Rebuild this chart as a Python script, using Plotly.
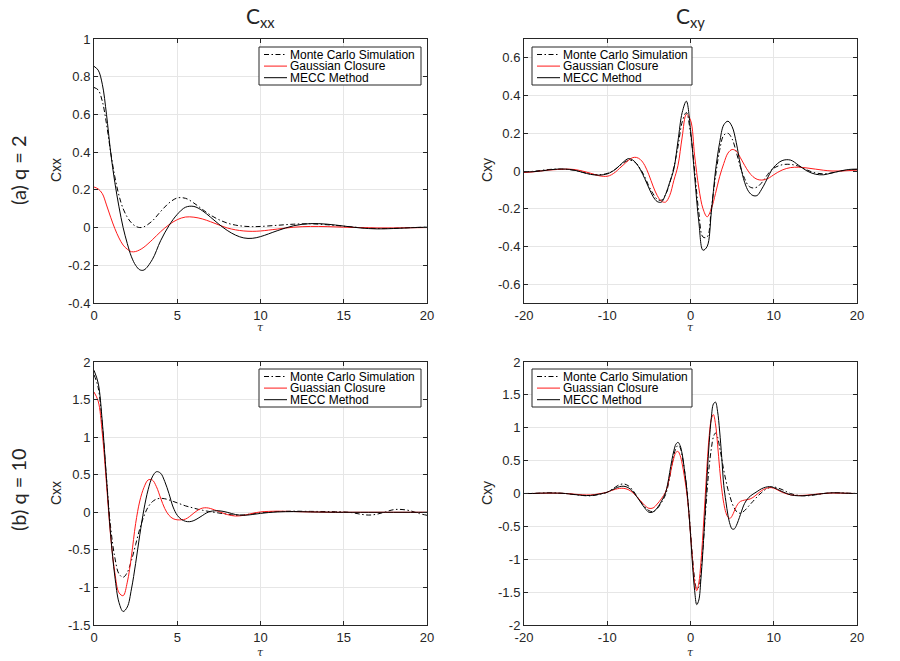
import plotly.graph_objects as go
from plotly.subplots import make_subplots

# (a) q = 2, Cxx
tau_a = [0, 0.25, 0.5, 0.75, 1, 1.25, 1.5, 1.75, 2, 2.25, 2.5, 2.75, 3,
         3.5, 4, 4.5, 5, 5.5, 6, 6.5, 7, 7.5, 8, 8.5, 9, 9.5, 10,
         11, 12, 13, 14, 15, 16, 17, 18, 19, 20]
mc_a = [0.743, 0.73, 0.67, 0.55, 0.40, 0.27, 0.17, 0.10, 0.055, 0.025, 0.007, 0.0, 0.004,
        0.035, 0.085, 0.13, 0.157, 0.155, 0.13, 0.097, 0.066, 0.042, 0.024, 0.013, 0.007, 0.005, 0.006,
        0.012, 0.018, 0.02, 0.015, 0.007, 0.0, -0.005, -0.004, 0.0, 0.002]
gc_a = [0.215, 0.205, 0.18, 0.12, 0.055, -0.005, -0.055, -0.093, -0.115, -0.128, -0.127, -0.118, -0.104,
        -0.065, -0.022, 0.015, 0.042, 0.056, 0.055, 0.046, 0.031, 0.014, -0.002, -0.012, -0.018, -0.02, -0.018,
        -0.008, 0.002, 0.006, 0.005, 0.002, 0.0, -0.002, -0.002, -0.001, 0.0]
mecc_a = [0.855, 0.835, 0.76, 0.6, 0.40, 0.24, 0.11, 0.0, -0.085, -0.155, -0.2, -0.224, -0.225,
          -0.17, -0.07, 0.01, 0.07, 0.108, 0.112, 0.09, 0.055, 0.018, -0.015, -0.04, -0.055, -0.057, -0.048,
          -0.017, 0.01, 0.021, 0.018, 0.008, -0.002, -0.007, -0.005, -0.001, 0.002]

# (a) q = 2, Cxy
tau_b = [-20, -19, -18, -17, -16, -15, -14, -13, -12, -11,
         -10, -9.5, -9, -8.5, -8, -7.5, -7, -6.5, -6, -5.5, -5, -4.5, -4, -3.5, -3, -2.5, -2, -1.5, -1, -0.5,
         0, 0.5, 1, 1.5, 2, 2.5, 3, 3.5, 4, 4.5, 5, 5.5, 6, 6.5, 7, 7.5, 8, 8.5, 9, 9.5, 10,
         11, 12, 13, 14, 15, 16, 17, 18, 19, 20]
mc_b = [-0.005, -0.002, 0.003, 0.008, 0.01, 0.009, 0.004, -0.006, -0.016, -0.02,
        -0.013, -0.003, 0.01, 0.028, 0.045, 0.055, 0.055, 0.04, 0.01, -0.03, -0.08, -0.12, -0.15, -0.155,
        -0.125, -0.065, 0.02, 0.13, 0.26, 0.31,
        0.2, 0.0, -0.22, -0.35, -0.35, -0.2, -0.03, 0.11, 0.19, 0.2, 0.17, 0.1, 0.02, -0.04, -0.08, -0.09,
        -0.085, -0.065, -0.035, -0.005, 0.015,
        0.033, 0.035, 0.025, 0.005, -0.01, -0.015, -0.01, 0.0, 0.005, 0.008]
gc_b = [-0.008, -0.005, 0.0, 0.005, 0.008, 0.01, 0.008, 0.0, -0.012, -0.025,
        -0.028, -0.02, -0.005, 0.015, 0.035, 0.055, 0.07, 0.072, 0.06, 0.03, -0.02, -0.08, -0.13, -0.16,
        -0.165, -0.13, -0.05, 0.03, 0.18, 0.3,
        0.27, 0.08, -0.09, -0.2, -0.243, -0.2, -0.12, -0.03, 0.04, 0.095, 0.114, 0.105, 0.07, 0.03, -0.005,
        -0.03, -0.044, -0.048, -0.045, -0.035, -0.02,
        0.005, 0.018, 0.02, 0.016, 0.01, 0.004, 0.0, 0.0, 0.002, 0.005]
mecc_b = [-0.005, -0.004, 0.0, 0.006, 0.01, 0.01, 0.005, -0.007, -0.018, -0.022,
          -0.015, -0.005, 0.01, 0.03, 0.05, 0.065, 0.06, 0.04, 0.005, -0.04, -0.09, -0.135, -0.162, -0.165,
          -0.125, -0.06, 0.01, 0.16, 0.31, 0.37,
          0.22, -0.03, -0.27, -0.42, -0.4, -0.22, 0.0, 0.15, 0.245, 0.264, 0.235, 0.15, 0.03, -0.06, -0.11,
          -0.13, -0.13, -0.1, -0.06, -0.015, 0.02,
          0.055, 0.058, 0.03, 0.0, -0.017, -0.02, -0.01, 0.0, 0.008, 0.01]

# (b) q = 10, Cxx
tau_c = [0, 0.25, 0.5, 0.75, 1, 1.25, 1.5, 1.75, 2, 2.25, 2.5, 2.75, 3, 3.25, 3.5, 3.75,
         4, 4.25, 4.5, 4.75, 5, 5.25, 5.5, 5.75, 6, 6.25, 6.5, 6.75, 7,
         7.5, 8, 8.5, 9, 9.5, 10, 10.5, 11, 11.5, 12, 12.5, 13, 13.5, 14,
         14.5, 15, 15.5, 16, 16.5, 17, 17.5, 18, 18.5, 19, 19.5, 20]
mc_c = [1.83, 1.66, 1.15, 0.45, -0.2, -0.6, -0.82, -0.865, -0.8, -0.64, -0.43, -0.22, -0.05, 0.07, 0.14, 0.175,
        0.186, 0.18, 0.165, 0.145, 0.125, 0.105, 0.085, 0.07, 0.055, 0.04, 0.028, 0.017, 0.008,
        -0.01, -0.025, -0.04, -0.035, -0.02, -0.005, 0.005, 0.01, 0.013, 0.015, 0.013, 0.012, 0.011, 0.01,
        0.008, 0.005, -0.005, -0.025, -0.037, -0.025, 0.005, 0.035, 0.037, 0.02, -0.015, -0.04]
gc_c = [1.6, 1.48, 1.05, 0.38, -0.32, -0.8, -1.07, -1.11, -0.93, -0.58, -0.15, 0.15, 0.33, 0.43, 0.43, 0.34,
        0.19, 0.05, -0.04, -0.085, -0.1, -0.1, -0.09, -0.055, -0.01, 0.03, 0.055, 0.06, 0.05,
        0.01, -0.03, -0.05, -0.04, -0.015, 0.005, 0.012, 0.015, 0.013, 0.01, 0.007, 0.005, 0.003, 0.001,
        0, 0, 0, 0, 0, 0, 0, 0, 0, 0, 0, 0]
mecc_c = [1.89, 1.72, 1.2, 0.45, -0.3, -0.85, -1.2, -1.32, -1.26, -1.02, -0.68, -0.3, 0.04, 0.3, 0.47, 0.54,
          0.52, 0.41, 0.25, 0.07, -0.04, -0.095, -0.12, -0.125, -0.11, -0.08, -0.045, -0.01, 0.012,
          0.02, 0.0, -0.03, -0.04, -0.03, -0.015, -0.003, 0.005, 0.009, 0.01, 0.008, 0.005, 0.003, 0.002,
          0, 0, 0, 0, 0, 0, 0, 0, 0, 0, 0, 0]

# (b) q = 10, Cxy
tau_d = [-20, -19, -18, -17, -16, -15, -14, -13, -12, -11,
         -10, -9.5, -9, -8.5, -8, -7.5, -7, -6.5, -6, -5.5, -5, -4.5, -4, -3.5,
         -3, -2.75, -2.5, -2.25, -2, -1.75, -1.5, -1.25, -1, -0.75, -0.5, -0.25,
         0, 0.25, 0.5, 0.75, 1, 1.25, 1.5, 1.75, 2, 2.25, 2.5, 2.75, 3, 3.25, 3.5, 3.75,
         4, 4.25, 4.5, 4.75, 5, 5.25, 5.5, 5.75, 6,
         6.5, 7, 7.5, 8, 8.5, 9, 9.5, 10,
         11, 12, 13, 14, 15, 16, 17, 18, 19, 20]
mc_d = [0.0, 0.002, 0.006, 0.01, 0.008, 0.0, -0.015, -0.03, -0.035, -0.015,
        0.02, 0.06, 0.1, 0.135, 0.145, 0.12, 0.06, -0.03, -0.12, -0.2, -0.26, -0.275, -0.23, -0.14,
        -0.02, 0.09, 0.24, 0.42, 0.58, 0.69, 0.73, 0.7, 0.57, 0.38, 0.13, -0.2,
        -0.58, -0.98, -1.3, -1.45, -1.42, -1.2, -0.82, -0.38, 0.05, 0.42, 0.68, 0.86, 0.92, 0.86, 0.7, 0.53,
        0.35, 0.2, 0.06, -0.05, -0.15, -0.22, -0.27, -0.295, -0.3,
        -0.26, -0.19, -0.12, -0.05, 0.01, 0.06, 0.09, 0.1,
        0.06, 0.0, -0.03, -0.035, -0.02, 0.0, 0.01, 0.01, 0.005, 0.0]
gc_d = [0.0, 0.0, 0.004, 0.006, 0.005, 0.0, -0.01, -0.02, -0.022, -0.005,
        0.02, 0.045, 0.065, 0.078, 0.078, 0.06, 0.02, -0.04, -0.11, -0.18, -0.225, -0.22, -0.16, -0.08,
        0.02, 0.12, 0.26, 0.41, 0.54, 0.625, 0.64, 0.58, 0.45, 0.27, 0.06, -0.22,
        -0.62, -1.02, -1.36, -1.478, -1.36, -1.05, -0.6, -0.08, 0.45, 0.88, 1.13, 1.2, 1.06, 0.75, 0.38, 0.07,
        -0.15, -0.29, -0.36, -0.378, -0.34, -0.27, -0.2, -0.15, -0.12,
        -0.1, -0.09, -0.06, -0.01, 0.04, 0.075, 0.09, 0.08,
        0.02, -0.02, -0.03, -0.025, -0.012, 0.0, 0.008, 0.006, 0.002, 0.0]
mecc_d = [0.0, 0.0, 0.005, 0.008, 0.006, 0.0, -0.015, -0.028, -0.03, -0.01,
          0.02, 0.05, 0.08, 0.105, 0.11, 0.09, 0.04, -0.04, -0.13, -0.22, -0.285, -0.28, -0.22, -0.12,
          0.01, 0.14, 0.32, 0.5, 0.65, 0.75, 0.778, 0.73, 0.6, 0.38, 0.13, -0.2,
          -0.62, -1.1, -1.48, -1.69, -1.62, -1.3, -0.85, -0.3, 0.28, 0.78, 1.15, 1.36, 1.39, 1.25, 0.95, 0.55,
          0.12, -0.12, -0.33, -0.47, -0.54, -0.54, -0.49, -0.41, -0.32,
          -0.15, -0.06, -0.01, 0.03, 0.07, 0.095, 0.105, 0.09,
          0.03, -0.02, -0.035, -0.03, -0.015, 0.0, 0.01, 0.008, 0.002, 0.0]

xticks_pos = [0, 5, 10, 15, 20]
xticks_sym = [-20, -10, 0, 10, 20]
yticks_a = [-0.4, -0.2, 0, 0.2, 0.4, 0.6, 0.8, 1]
yticks_b = [-0.6, -0.4, -0.2, 0, 0.2, 0.4, 0.6]
yticks_c = [-1.5, -1, -0.5, 0, 0.5, 1, 1.5, 2]
yticks_d = [-2, -1.5, -1, -0.5, 0, 0.5, 1, 1.5, 2]

names_top = ["Monte Carlo Simulation", "Gaussian Closure", "MECC Method"]
names_bot = ["Monte Carlo Simulation", "Guassian Closure", "MECC Method"]

W, H = 900, 661
PAD = 8  # the page's body margin pushes the figure by this much, so lay out in page pixels minus PAD
SANS = "Liberation Sans, Arial, sans-serif"
INK = "#262626"

styles = [dict(color="black", width=1, dash="5px,2.5px,1.5px,2.5px"),
          dict(color="#ff1a1a", width=1),
          dict(color="black", width=1)]


def px_x(v):
    return (v - PAD) / W


def px_y(v):
    return 1 - (v - PAD) / H


# row, col, data, legend names, legend box (left, top) in pixels
panels = [
    (1, 1, tau_a, [mc_a, gc_a, mecc_a], names_top, (259, 47)),
    (1, 2, tau_b, [mc_b, gc_b, mecc_b], names_top, (532, 47)),
    (2, 1, tau_c, [mc_c, gc_c, mecc_c], names_bot, (259, 369)),
    (2, 2, tau_d, [mc_d, gc_d, mecc_d], names_bot, (532, 369)),
]

fig = make_subplots(rows=2, cols=2)

for row, col, tau, series, names, (lx, ly) in panels:
    for ys, name, st in zip(series, names, styles):
        assert len(ys) == len(tau)
        fig.add_trace(go.Scatter(x=tau, y=ys, mode="lines", name=name, showlegend=False,
                                 line=dict(shape="spline", **st)), row=row, col=col)
    # compact MATLAB-style legend box
    lw = 162 if col == 1 else 160
    fig.add_shape(type="rect", xref="paper", yref="paper",
                  x0=px_x(lx), x1=px_x(lx + lw), y0=px_y(ly), y1=px_y(ly + 38),
                  line=dict(color=INK, width=1), fillcolor="white", layer="above")
    for i, (name, st) in enumerate(zip(names, styles)):
        yy = ly + 7.5 + 11.6 * i
        fig.add_shape(type="line", xref="paper", yref="paper",
                      x0=px_x(lx + 5), x1=px_x(lx + 28), y0=px_y(yy), y1=px_y(yy),
                      line=st, layer="above")
        fig.add_annotation(text=name, x=px_x(lx + 30), y=px_y(yy), xref="paper", yref="paper",
                           showarrow=False, xanchor="left", yanchor="middle", borderpad=0,
                           font=dict(family=SANS, size=12, color="black"))


def tick_text(vals):
    return [f"{v:g}" for v in vals]


axis_style = dict(showline=True, mirror="ticks", linecolor=INK, linewidth=1,
                  ticks="inside", ticklen=4, tickcolor=INK,
                  showgrid=True, gridcolor="#e6e6e6", zeroline=False,
                  tickfont=dict(family=SANS, size=13, color=INK))

xl = [px_x(94), px_x(427)]
xr = [px_x(524), px_x(857)]
yt = [px_y(303), px_y(39)]
yb = [px_y(625), px_y(362)]

fig.update_xaxes(**axis_style)
fig.update_yaxes(**axis_style)
fig.update_layout(
    xaxis=dict(domain=xl, range=[0, 20], tickvals=xticks_pos, ticktext=tick_text(xticks_pos)),
    yaxis=dict(domain=yt, range=[-0.4, 1], tickvals=yticks_a, ticktext=tick_text(yticks_a)),
    xaxis2=dict(domain=xr, range=[-20, 20], tickvals=xticks_sym, ticktext=tick_text(xticks_sym)),
    yaxis2=dict(domain=yt, range=[-0.7, 0.7], tickvals=yticks_b, ticktext=tick_text(yticks_b)),
    xaxis3=dict(domain=xl, range=[0, 20], tickvals=xticks_pos, ticktext=tick_text(xticks_pos)),
    yaxis3=dict(domain=yb, range=[-1.5, 2], tickvals=yticks_c, ticktext=tick_text(yticks_c)),
    xaxis4=dict(domain=xr, range=[-20, 20], tickvals=xticks_sym, ticktext=tick_text(xticks_sym)),
    yaxis4=dict(domain=yb, range=[-2, 2], tickvals=yticks_d, ticktext=tick_text(yticks_d)),
)

title_font = dict(family="Lato, sans-serif", size=21, color=INK)
row_font = dict(family="Lato, sans-serif", size=20, color=INK)
ylab_font = dict(family=SANS, size=14, color=INK)
tau_font = dict(family="DejaVu Serif, serif", size=11, color=INK)
notes = [
    ("C<sub>xx</sub>", 260.5, 17, 0, title_font),
    ("C<sub>xy</sub>", 690.5, 17, 0, title_font),
    ("(a) q = 2", 18, 170, -90, row_font),
    ("(b) q = 10", 18, 490, -90, row_font),
    ("Cxx", 56, 170, -90, ylab_font),
    ("Cxy", 487, 170, -90, ylab_font),
    ("Cxx", 56, 493, -90, ylab_font),
    ("Cxy", 487, 493, -90, ylab_font),
    ("<i>τ</i>", 260.5, 327, 0, tau_font),
    ("<i>τ</i>", 690.5, 327, 0, tau_font),
    ("<i>τ</i>", 260.5, 652, 0, tau_font),
    ("<i>τ</i>", 690.5, 652, 0, tau_font),
]
for text, x, y, ang, font in notes:
    fig.add_annotation(text=text, x=px_x(x), y=px_y(y), xref="paper", yref="paper",
                       showarrow=False, textangle=ang, font=font, xanchor="center", yanchor="middle",
                       borderpad=0)

fig.update_layout(width=W, height=H, autosize=False,
                  margin=dict(l=0, r=0, t=0, b=0, autoexpand=False),
                  showlegend=False, plot_bgcolor="white", paper_bgcolor="white")

fig.write_html("out.html")
